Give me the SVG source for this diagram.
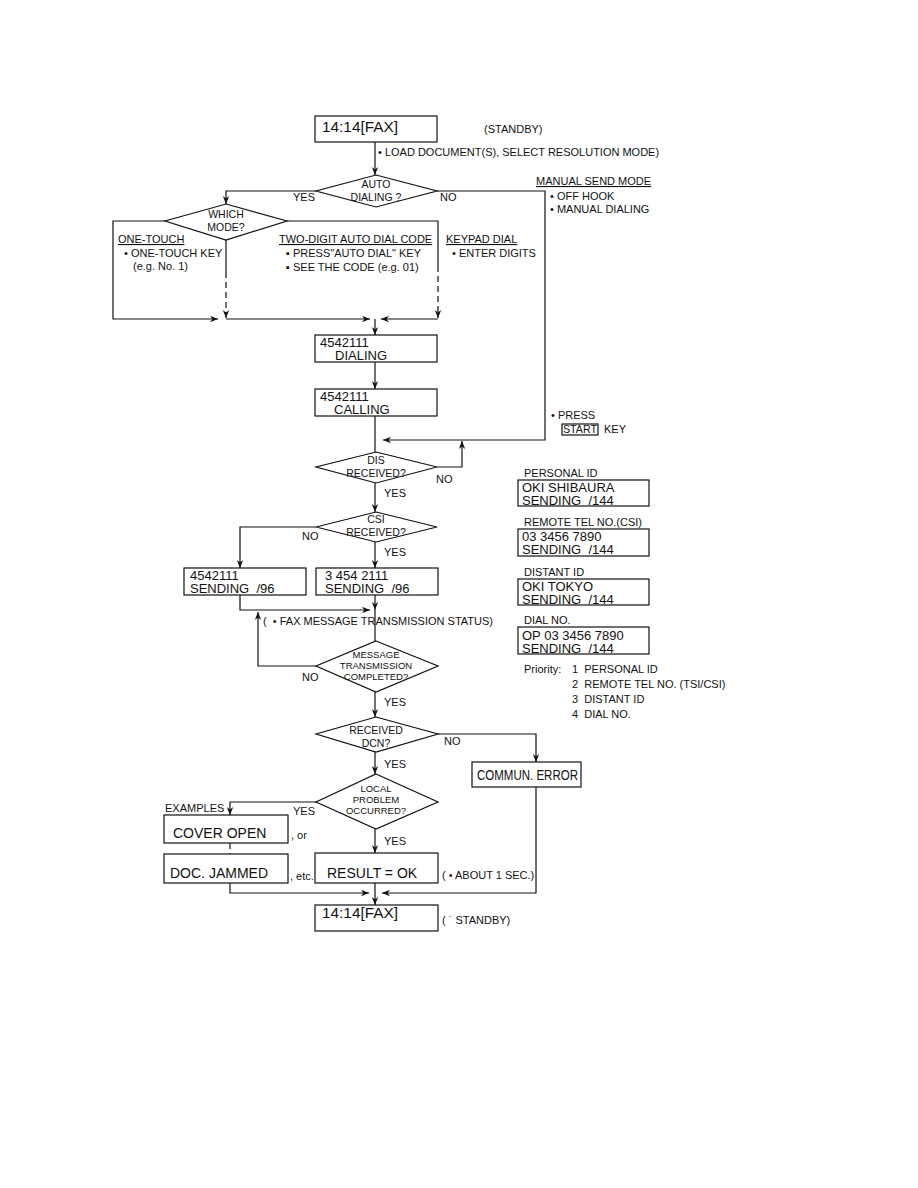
<svg xmlns="http://www.w3.org/2000/svg" width="918" height="1188" viewBox="0 0 918 1188">
<style>
text{font-family:"Liberation Sans",Arial,sans-serif;fill:#111;white-space:pre}
.bx{fill:#fff;stroke:#111;stroke-width:1.2}
.dm{fill:#fff;stroke:#111;stroke-width:1.2}
.ln{fill:none;stroke:#111;stroke-width:1.2}
.ds{fill:none;stroke:#111;stroke-width:1.2;stroke-dasharray:6 4}
.bt{font-size:14px}
.b2{font-size:13px}
.lb{font-size:11px}
.ul{text-decoration:underline}
.dt{font-size:10.5px;text-anchor:middle}
.st{font-size:9.5px;text-anchor:middle}
</style>
<defs>
<marker id="ar" viewBox="0 0 10 10" refX="10" refY="5" markerWidth="8" markerHeight="8" markerUnits="userSpaceOnUse" orient="auto">
<path d="M0,1 L10,5 L0,9 L3,5 Z" fill="#111"/>
</marker>
</defs>
<rect width="918" height="1188" fill="#fff"/>

<g id="connectors">
<path class="ln" d="M375,142 V175" marker-end="url(#ar)"/>
<path class="ln" d="M316,191 H226 V204" marker-end="url(#ar)"/>
<path class="ln" d="M437,191 H545 V440 H383" marker-end="url(#ar)"/>
<path class="ln" d="M165,221 H113 V319 H218" marker-end="url(#ar)"/>
<path class="ln" d="M226,240 V272"/>
<path class="ds" d="M226,272 V318" marker-end="url(#ar)"/>
<path class="ln" d="M287,221 H438 V266"/>
<path class="ds" d="M438,266 V318" marker-end="url(#ar)"/>
<path class="ln" d="M226,319 H370" marker-end="url(#ar)"/>
<path class="ln" d="M438,319 H381" marker-end="url(#ar)"/>
<path class="ln" d="M375,319 V335" marker-end="url(#ar)"/>
<path class="ln" d="M375,362 V389" marker-end="url(#ar)"/>
<path class="ln" d="M375,416 V452"/>
<path class="ln" d="M437,467 H462 V441" marker-end="url(#ar)"/>
<path class="ln" d="M375,483 V512" marker-end="url(#ar)"/>
<path class="ln" d="M316,527 H240 V568" marker-end="url(#ar)"/>
<path class="ln" d="M375,542 V568" marker-end="url(#ar)"/>
<path class="ln" d="M375,595 V610" marker-end="url(#ar)"/>
<path class="ln" d="M240,595 V610 H370" marker-end="url(#ar)"/>
<path class="ln" d="M375,610 V641"/>
<path class="ln" d="M316,666 H258 V612" marker-end="url(#ar)"/>
<path class="ln" d="M375,692 V717" marker-end="url(#ar)"/>
<path class="ln" d="M438,734 H536 V762" marker-end="url(#ar)"/>
<path class="ln" d="M375,752 V774" marker-end="url(#ar)"/>
<path class="ln" d="M316,802 H230 V815" marker-end="url(#ar)"/>
<path class="ds" d="M230,843 V854"/>
<path class="ln" d="M375,829 V853" marker-end="url(#ar)"/>
<path class="ln" d="M230,883 V893 H369" marker-end="url(#ar)"/>
<path class="ln" d="M536,787 V893 H382" marker-end="url(#ar)"/>
<path class="ln" d="M375,883 V905" marker-end="url(#ar)"/>
</g>

<g id="n-standby-top">
<rect class="bx" x="315" y="116" width="122" height="26"/>
<text class="bt" x="322" y="132" textLength="76" lengthAdjust="spacingAndGlyphs">14:14[FAX]</text>
<text class="lb" x="484" y="133">(STANDBY)</text>
</g>
<text class="lb" x="378" y="156">• LOAD DOCUMENT(S), SELECT RESOLUTION MODE)</text>

<g id="n-auto-dialing">
<polygon class="dm" points="376,175 437,191 376,207 316,191"/>
<text class="dt" x="376" y="188">AUTO</text>
<text class="dt" x="376" y="201">DIALING ?</text>
</g>
<text class="lb" x="293" y="201">YES</text>
<text class="lb" x="440" y="201">NO</text>

<g id="n-manual">
<text class="lb ul" x="536" y="185">MANUAL SEND MODE</text>
<text class="lb" x="550" y="200">• OFF HOOK</text>
<text class="lb" x="550" y="213">• MANUAL DIALING</text>
</g>

<g id="n-which-mode">
<polygon class="dm" points="226,204 287,221 226,240 165,221"/>
<text class="dt" x="226" y="218">WHICH</text>
<text class="dt" x="226" y="231">MODE?</text>
</g>

<g id="n-one-touch">
<text class="lb ul" x="118" y="243">ONE-TOUCH</text>
<text class="lb" x="124" y="257">• ONE-TOUCH KEY</text>
<text class="lb" x="133" y="270">(e.g. No. 1)</text>
</g>
<g id="n-two-digit">
<text class="lb ul" x="279" y="243">TWO-DIGIT AUTO DIAL CODE</text>
<text class="lb" x="286" y="257">▪ PRESS"AUTO DIAL" KEY</text>
<text class="lb" x="286" y="271">▪ SEE THE CODE (e.g. 01)</text>
</g>
<g id="n-keypad">
<text class="lb ul" x="446" y="243">KEYPAD DIAL</text>
<text class="lb" x="452" y="257">• ENTER DIGITS</text>
</g>

<g id="n-dialing">
<rect class="bx" x="315" y="335" width="122" height="27"/>
<text class="b2" x="320" y="347">4542111</text>
<text class="b2" x="335" y="360">DIALING</text>
</g>
<g id="n-calling">
<rect class="bx" x="315" y="389" width="122" height="27"/>
<text class="b2" x="320" y="401">4542111</text>
<text class="b2" x="334" y="414">CALLING</text>
</g>

<g id="n-press-start">
<text class="lb" x="551" y="419">• PRESS</text>
<rect class="bx" x="562" y="424" width="36" height="11" stroke-width="0.9"/>
<text class="lb" x="563" y="433" textLength="34" lengthAdjust="spacingAndGlyphs">START</text>
<text class="lb" x="604" y="433">KEY</text>
</g>

<g id="n-dis">
<polygon class="dm" points="376,452 437,467 376,483 316,467"/>
<text class="dt" x="376" y="464">DIS</text>
<text class="dt" x="376" y="477">RECEIVED?</text>
</g>
<text class="lb" x="436" y="483">NO</text>
<text class="lb" x="384" y="497">YES</text>

<g id="n-csi">
<polygon class="dm" points="376,512 437,527 376,542 316,527"/>
<text class="dt" x="376" y="523">CSI</text>
<text class="dt" x="376" y="536">RECEIVED?</text>
</g>
<text class="lb" x="302" y="540">NO</text>
<text class="lb" x="384" y="556">YES</text>

<g id="n-send-left">
<rect class="bx" x="184" y="568" width="122" height="27"/>
<text class="b2" x="190" y="580">4542111</text>
<text class="b2" x="190" y="593">SENDING  /96</text>
</g>
<g id="n-send-right">
<rect class="bx" x="316" y="568" width="122" height="27"/>
<text class="b2" x="325" y="580">3 454 2111</text>
<text class="b2" x="325" y="593">SENDING  /96</text>
</g>
<text class="lb" x="263" y="625">(  • FAX MESSAGE TRANSMISSION STATUS)</text>

<g id="n-message">
<polygon class="dm" points="376,641 438,666 376,692 316,666"/>
<text class="st" x="376" y="658">MESSAGE</text>
<text class="st" x="376" y="669">TRANSMISSION</text>
<text class="st" x="376" y="680">COMPLETED?</text>
</g>
<text class="lb" x="302" y="681">NO</text>
<text class="lb" x="384" y="706">YES</text>

<g id="n-dcn">
<polygon class="dm" points="376,717 438,734 376,752 316,734"/>
<text class="dt" x="376" y="734">RECEIVED</text>
<text class="dt" x="376" y="747">DCN?</text>
</g>
<text class="lb" x="444" y="745">NO</text>
<text class="lb" x="384" y="768">YES</text>

<g id="n-commun">
<rect class="bx" x="472" y="762" width="109" height="25"/>
<text class="bt" x="477" y="780" textLength="101" lengthAdjust="spacingAndGlyphs">COMMUN. ERROR</text>
</g>

<g id="n-local">
<polygon class="dm" points="376,774 438,802 376,829 316,802"/>
<text class="st" x="376" y="792">LOCAL</text>
<text class="st" x="376" y="803">PROBLEM</text>
<text class="st" x="376" y="814">OCCURRED?</text>
</g>
<text class="lb" x="293" y="815">YES</text>
<text class="lb" x="384" y="845">YES</text>
<text class="lb" x="165" y="812">EXAMPLES</text>

<g id="n-cover">
<rect class="bx" x="164" y="815" width="124" height="28"/>
<text class="bt" x="173" y="838">COVER OPEN</text>
<text class="lb" x="291" y="839">, or</text>
</g>
<g id="n-doc">
<rect class="bx" x="164" y="854" width="124" height="29"/>
<text class="bt" x="170" y="878">DOC. JAMMED</text>
<text class="lb" x="290" y="880">, etc.</text>
</g>
<g id="n-result">
<rect class="bx" x="315" y="853" width="123" height="30"/>
<text class="bt" x="327" y="878">RESULT = OK</text>
<text class="lb" x="442" y="879">( • ABOUT 1 SEC.)</text>
</g>
<g id="n-standby-bottom">
<rect class="bx" x="315" y="905" width="123" height="26"/>
<text class="bt" x="322" y="918" textLength="76" lengthAdjust="spacingAndGlyphs">14:14[FAX]</text>
<text class="lb" x="442" y="924">( ˙ STANDBY)</text>
</g>

<g id="n-personal">
<text class="lb" x="524" y="477">PERSONAL ID</text>
<rect class="bx" x="518" y="480" width="131" height="26"/>
<text class="b2" x="522" y="492">OKI SHIBAURA</text>
<text class="b2" x="522" y="505">SENDING  /144</text>
</g>
<g id="n-remote">
<text class="lb" x="524" y="526">REMOTE TEL NO.(CSI)</text>
<rect class="bx" x="518" y="529" width="131" height="27"/>
<text class="b2" x="522" y="541">03 3456 7890</text>
<text class="b2" x="522" y="554">SENDING  /144</text>
</g>
<g id="n-distant">
<text class="lb" x="524" y="576">DISTANT ID</text>
<rect class="bx" x="518" y="579" width="131" height="26"/>
<text class="b2" x="522" y="591">OKI TOKYO</text>
<text class="b2" x="522" y="604">SENDING  /144</text>
</g>
<g id="n-dialno">
<text class="lb" x="524" y="624">DIAL NO.</text>
<rect class="bx" x="518" y="627" width="131" height="27"/>
<text class="b2" x="522" y="640">OP 03 3456 7890</text>
<text class="b2" x="522" y="653">SENDING  /144</text>
</g>
<g id="n-priority">
<text class="lb" x="524" y="673">Priority:</text>
<text class="lb" x="572" y="673">1  PERSONAL ID</text>
<text class="lb" x="572" y="688">2  REMOTE TEL NO. (TSI/CSI)</text>
<text class="lb" x="572" y="703">3  DISTANT ID</text>
<text class="lb" x="572" y="718">4  DIAL NO.</text>
</g>
</svg>
